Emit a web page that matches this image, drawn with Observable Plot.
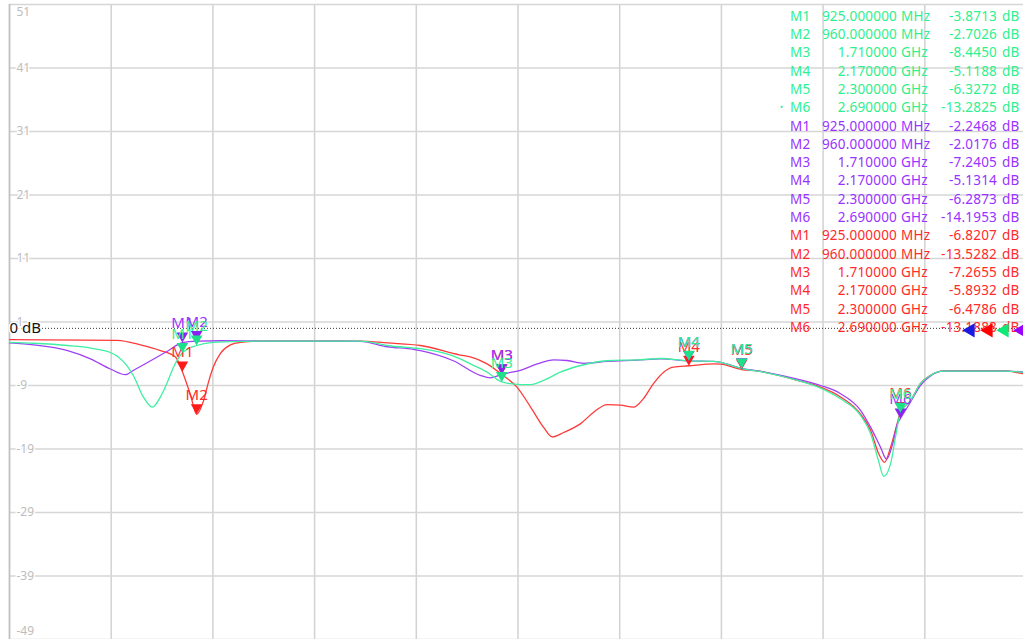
<!DOCTYPE html>
<html><head><meta charset="utf-8">
<script src="https://cdn.jsdelivr.net/npm/d3@7"></script>
<script src="https://cdn.jsdelivr.net/npm/@observablehq/plot@0.6"></script>
<style>
html,body{margin:0;padding:0;background:#fff;overflow:hidden;}
#wrap{position:relative;width:1023px;height:639px;overflow:hidden;}
</style></head><body><div id="wrap"></div>
<script>
// ---- axes ----
const freqGrid = [500, 750, 1000, 1250, 1500, 1750, 2000, 2250, 2500, 2750, 3000]; // MHz
const dbTicks = [51, 41, 31, 21, 11, 1, -9, -19, -29, -39, -49];

// ---- markers ----
const markerNames = ["M1", "M2", "M3", "M4", "M5", "M6"];
const markerFreqs = [925, 960, 1710, 2170, 2300, 2690]; // MHz
const markerFreqText = ["925.000000", "960.000000", "1.710000", "2.170000", "2.300000", "2.690000"];
const markerUnits = ["MHz", "MHz", "GHz", "GHz", "GHz", "GHz"];
const greenMarkerDb = [-3.8713, -2.7026, -8.4450, -5.1188, -6.3272, -13.2825];
const purpleMarkerDb = [-2.2468, -2.0176, -7.2405, -5.1314, -6.2873, -14.1953];
const redMarkerDb = [-6.8207, -13.5282, -7.2655, -5.8932, -6.4786, -13.1888];

// ---- traces (MHz, dB) ----
const greenFreq = [500,559,643,700,724,748,765,789,805,829,851,871,888,904,925,960,1000,1043,1117,1363,1429,1493,1510,1608,1633,1674,1710,1756,1781,1813,1854,1904,1969,2043,2100,2170,2231,2248,2300,2353,2437,2494,2543,2592,2617,2636,2649,2666,2678,2690,2715,2739,2764,2796,2951,3000];
const greenDb = [-2.2,-2.35,-2.7,-3.1,-3.4,-3.8,-4.4,-5.9,-7.5,-10.8,-12.4,-10.8,-8.5,-6.0,-3.8713,-2.7026,-2.2,-2.1,-2.0,-2.0,-2.7,-3.1,-3.2,-4.8,-5.6,-6.9,-8.445,-8.85,-8.85,-8.2,-6.9,-5.85,-5.1,-4.96,-4.75,-5.1188,-5.2,-5.35,-6.3272,-6.9,-8.2,-9.4,-11.1,-13.7,-16.6,-20.8,-23.3,-21.3,-17.1,-13.2825,-11.4,-8.7,-7.4,-6.75,-6.75,-7.0];

const purpleFreq = [500,559,643,699,748,785,805,847,888,925,960,1019,1117,1363,1429,1493,1510,1591,1657,1682,1710,1756,1797,1838,1871,1912,1969,2043,2100,2170,2231,2248,2300,2353,2437,2494,2543,2592,2617,2641,2656,2671,2683,2690,2715,2739,2764,2796,2951,3000];
const purpleDb = [-2.3,-2.6,-3.5,-4.8,-6.4,-7.3,-6.6,-5.1,-3.6,-2.2468,-2.0176,-1.95,-2.0,-2.05,-2.9,-3.3,-3.5,-5.1,-7.4,-7.8,-7.2405,-6.6,-5.6,-4.96,-5.06,-5.5,-5.2,-5.0,-4.8,-5.1314,-5.2,-5.35,-6.2873,-6.85,-8.0,-9.0,-10.3,-12.9,-15.6,-18.7,-20.6,-18.2,-15.0,-14.1953,-11.6,-9.0,-7.5,-6.75,-6.75,-6.9];

const redFreq = [500,765,822,871,908,925,945,960,977,989,1001,1019,1043,1068,1117,1363,1429,1510,1608,1633,1674,1710,1748,1781,1813,1834,1862,1904,1936,1969,2002,2035,2058,2083,2108,2132,2170,2231,2248,2300,2339,2437,2494,2543,2592,2617,2637,2651,2666,2682,2690,2715,2739,2764,2796,2951,2980,3000];
const redDb = [-1.76,-1.9,-2.6,-3.5,-4.5,-6.8207,-10.5,-13.5282,-11.4,-8.5,-6.1,-3.9,-2.6,-2.2,-2.0,-2.0,-2.3,-2.7,-4.2,-4.5,-5.6,-7.2655,-9.3,-12.4,-15.6,-17.1,-16.4,-15.0,-13.2,-12.0,-12.1,-12.4,-11.1,-8.7,-6.9,-6.1,-5.8932,-5.6,-5.65,-6.4786,-6.7,-8.2,-9.27,-10.8,-13.5,-16.1,-19.8,-21.1,-18.7,-15.0,-13.1888,-11.4,-8.7,-7.4,-6.7,-6.7,-7.0,-7.2];

// ---- styling ----
const traces = [
  {name: "red", freq: redFreq, db: redDb, mk: redMarkerDb, line: "#ff3a3a", fill: "#ff1a1a", text: "#ff2a2a"},
  {name: "purple", freq: purpleFreq, db: purpleDb, mk: purpleMarkerDb, line: "#a040f5", fill: "#8a22f0", text: "#9933ff"},
  {name: "green", freq: greenFreq, db: greenDb, mk: greenMarkerDb, line: "#3ff0a0", fill: "#1fe08a", text: "#2ef08e"}
];
const tableOrder = ["green", "purple", "red"];
const refTriangles = [{c: "#1a1ae0", dx: -56}, {c: "#ff0000", dx: -38}, {c: "#10e878", dx: -22}, {c: "#9900ff", dx: -5}];

const toRows = (f, d) => f.map((v, i) => ({f: v, db: d[i]}));
const font = "'Noto Sans', sans-serif";

const marks = [
  Plot.gridX(freqGrid, {stroke: "#d2d2d2", strokeOpacity: 1, strokeWidth: 1.5}),
  Plot.gridY(dbTicks, {stroke: "#d6d6d6", strokeOpacity: 1, strokeWidth: 1.5}),
  Plot.ruleX([500], {stroke: "#c0c0c0", strokeWidth: 1.5}),
  Plot.ruleY([0], {stroke: "#333", strokeWidth: 1, strokeDasharray: "1,2"}),
];
// marker table (drawn in SVG so the reference triangles overlap it)
marks.push((index, scales, values, dim) => {
  const g = d3.create("svg:g").attr("font-family", font).attr("font-size", 13.5).style("letter-spacing", "0.2px");
  tableOrder.forEach((tn, ti) => {
    const t = traces.find(d => d.name === tn);
    markerNames.forEach((m, i) => {
      const row = ti * 6 + i;
      const y = 16 + row * 18.3;
      const add = (x, txt, anchor) => g.append("text").attr("x", x).attr("y", y).attr("dy", "0.35em")
        .attr("text-anchor", anchor).attr("fill", t.text).text(txt);
      add(790, m, "start");
      add(897, markerFreqText[i], "end");
      add(901, markerUnits[i], "start");
      add(997, t.mk[i].toFixed(4), "end");
      add(1002, "dB", "start");
      if (tn === "green" && i === 5) add(780, "•", "start").attr("font-size", 8);
    });
  });
  return g.node();
});
for (const t of traces) {
  marks.push(Plot.line(toRows(t.freq, t.db), {x: "f", y: "db", stroke: t.line, strokeWidth: 1.3, curve: "monotone-x"}));
}
for (const t of traces) {
  const mk = markerNames.map((m, i) => ({m, f: markerFreqs[i], db: t.mk[i]}));
  marks.push(Plot.dot(mk, {x: "f", y: "db", symbol: "triangle", rotate: 180, r: 4.3, dy: -6.7, fill: t.fill, stroke: "none"}));
  marks.push(Plot.text(mk, {x: "f", y: "db", text: "m", dy: -19, fill: t.text, fontSize: 15, fontFamily: font}));
}
// y labels
const midTicks = dbTicks.slice(1, -1);
const lab = {frameAnchor: "left", dx: 7, textAnchor: "start", fill: "#bdbdbd", stroke: "white", strokeWidth: 3, fontSize: 12, fontFamily: font, text: d => String(d)};
marks.push(Plot.text(midTicks, {...lab, y: d => d}));
marks.push(Plot.text([dbTicks[0]], {...lab, y: d => d, dy: 8, stroke: null}));
marks.push(Plot.text([dbTicks[dbTicks.length - 1]], {...lab, y: d => d, dy: -8, stroke: null}));
marks.push(Plot.text(["0 dB"], {y: () => 0, text: d => d, frameAnchor: "left", dx: 0, textAnchor: "start", fill: "#111", stroke: "white", strokeWidth: 3, fontSize: 15, fontFamily: font}));
for (const r of refTriangles) {
  marks.push(Plot.dot([0], {y: d => d, frameAnchor: "right", dx: r.dx, dy: 2, symbol: "triangle", rotate: -90, r: 5.3, fill: r.c, stroke: "none"}));
}

const chart = Plot.plot({
  width: 1023, height: 639,
  marginLeft: 9, marginRight: -3, marginTop: 4, marginBottom: 0,
  x: {type: "linear", domain: [500, 3000], axis: null},
  y: {type: "linear", domain: [-49, 51], axis: null},
  style: {fontFamily: font, background: "white", overflow: "hidden"},
  marks
});
document.getElementById("wrap").appendChild(chart);
</script>
</body></html>
